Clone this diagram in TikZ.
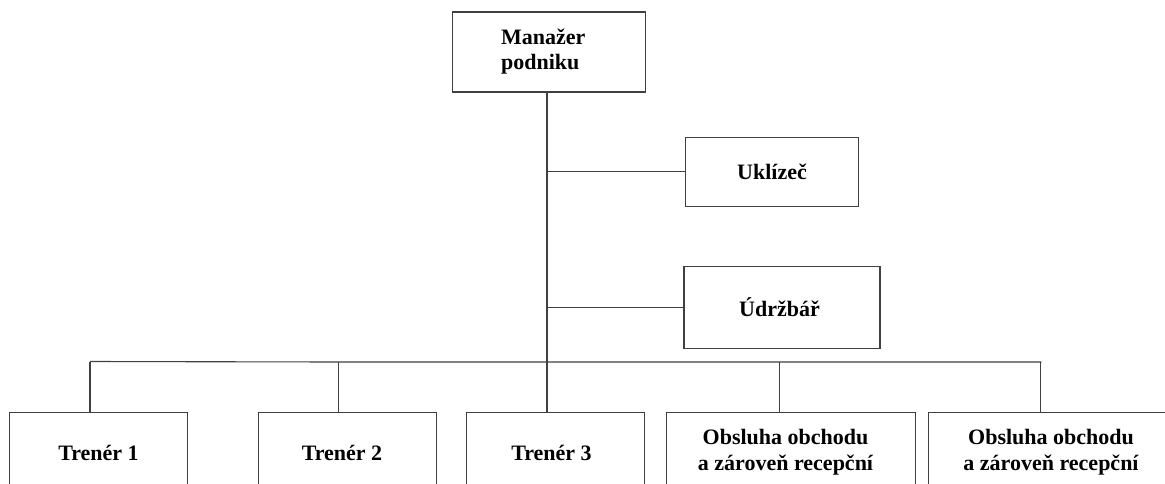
\documentclass[tikz,border=0pt]{standalone}
\usepackage{fontspec}
\setmainfont{Liberation Serif}
\begin{document}
\begin{tikzpicture}[x=1pt,y=-1pt,
  box/.style={draw=black!75, line width=1.1pt, inner sep=0pt, fill=white,
    font=\bfseries\fontsize{22}{25}\selectfont, align=center},
  twoline/.style={font=\bfseries\fontsize{22}{26}\selectfont},
  link/.style={draw=black!75, line width=1.1pt}]
\clip (0,0) rectangle (1165,483);
\fill[white] (0,0) rectangle (1165,483);
% nodes
\node[box, minimum width=193, minimum height=80, align=left] (mgr) at (549.2,52) {Manažer\hspace*{12pt}\\podniku};
\node[box, minimum width=172.3, minimum height=68.7] (uk) at (772,171.7) {Uklízeč};
\node[box, minimum width=196, minimum height=81.6] (ud) at (782,307.5) {\hspace*{-5pt}Údržbář};
\node[box, minimum width=178.4, minimum height=80] (t1) at (98.5,452.5) {Trenér 1};
\node[box, minimum width=178.4, minimum height=80] (t2) at (347.5,452.5) {Trenér 2\hspace*{11pt}};
\node[box, minimum width=177.6, minimum height=80] (t3) at (555.5,452.5) {Trenér 3\hspace*{8pt}};
\node[box, twoline, minimum width=248.6, minimum height=80] (o1) at (791,452.5) {Obsluha obchodu\hspace*{11pt}\\a zároveň recepční\hspace*{11pt}};
\node[box, twoline, minimum width=245.4, minimum height=80] (o2) at (1051,452.5) {Obsluha obchodu\\a zároveň recepční};
% connector points on the bus
\coordinate (bus) at (547,362);
\coordinate (c1) at (90,361.5);
\coordinate (c2) at (338.7,362);
\coordinate (c3) at (547,362);
\coordinate (c4) at (779.3,362);
\coordinate (c5) at (1040.7,363);
% connectors
\draw[link] (mgr.south -| bus) -- (bus);
\draw[link] (uk.west) -- (uk.west -| bus);
\draw[link] (ud.west) -- (ud.west -| bus);
\draw[link] (c1) -- (c2) -- (c4) -- (c4 -| c5) -- (c5);
\draw[link] (c1) -- (c1 |- t1.north);
\draw[link] (c2) -- (c2 |- t2.north);
\draw[link] (c3) -- (c3 |- t3.north);
\draw[link] (c4) -- (c4 |- o1.north);
\draw[link] (c5) -- (c5 |- o2.north);
\end{tikzpicture}
\end{document}
